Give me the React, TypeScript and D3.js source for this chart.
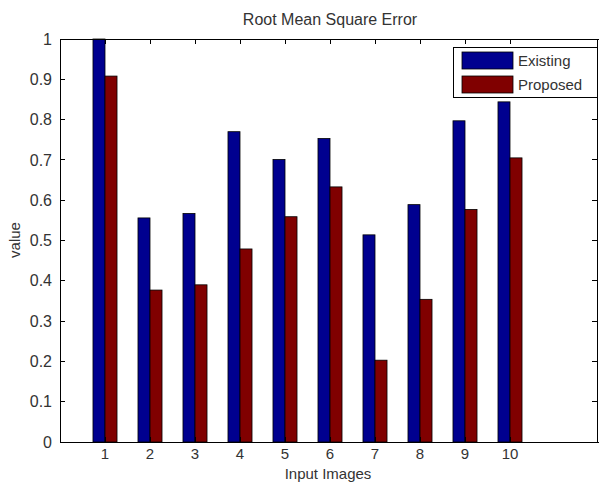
import * as d3 from "d3";

const categories = ["1", "2", "3", "4", "5", "6", "7", "8", "9", "10"];
const existing = [1.0, 0.556, 0.567, 0.77, 0.701, 0.753, 0.514, 0.589, 0.797, 0.844];
const proposed = [0.908, 0.377, 0.39, 0.479, 0.559, 0.633, 0.203, 0.354, 0.577, 0.705];
const yTicks = [0, 0.1, 0.2, 0.3, 0.4, 0.5, 0.6, 0.7, 0.8, 0.9, 1];
const seriesNames = ["Existing", "Proposed"];
const colors = ["#00008f", "#800000"];

const W = 599;
const H = 482;
const margin = { top: 39, left: 60, bottom: 40 };
const plotRight = 600;
const font = "'Liberation Sans', Arial, sans-serif";
const textColor = "#333";

export default function App() {
  const x = d3.scaleLinear().domain([0, 12]).range([margin.left, plotRight]);
  const y = d3.scaleLinear().domain([0, 1]).range([H - margin.bottom, margin.top]);
  const barW = x(0.267) - x(0);
  const y0 = y(0);
  const tick = 5;

  return (
    <svg width={W} height={H} style={{ position: "absolute", left: 0, top: 0, background: "#fff" }}>
      {/* bars */}
      {categories.map((c, i) => {
        const cx = x(i + 1);
        return (
          <g key={c}>
            <rect x={cx - barW} y={y(existing[i])} width={barW} height={y0 - y(existing[i])}
              fill={colors[0]} stroke="#000" strokeWidth={0.8} />
            <rect x={cx} y={y(proposed[i])} width={barW} height={y0 - y(proposed[i])}
              fill={colors[1]} stroke="#000" strokeWidth={0.8} />
          </g>
        );
      })}

      {/* axes box */}
      <g stroke="#000" strokeWidth={1} fill="none" shapeRendering="crispEdges">
        <line x1={x(0)} x2={plotRight} y1={y(1)} y2={y(1)} />
        <line x1={x(0)} x2={plotRight} y1={y0} y2={y0} />
        <line x1={x(0)} x2={x(0)} y1={y(1)} y2={y0} />
        <line x1={plotRight - 3} x2={plotRight - 3} y1={y(1)} y2={y0} />
        {yTicks.map(t => (
          <g key={"yt" + t}>
            <line x1={x(0)} x2={x(0) + tick} y1={y(t)} y2={y(t)} />
            <line x1={plotRight - 3 - tick} x2={plotRight - 3} y1={y(t)} y2={y(t)} />
          </g>
        ))}
        {categories.map((c, i) => (
          <g key={"xt" + c}>
            <line x1={x(i + 1)} x2={x(i + 1)} y1={y0} y2={y0 - tick} />
            <line x1={x(i + 1)} x2={x(i + 1)} y1={y(1)} y2={y(1) + tick} />
          </g>
        ))}
      </g>

      {/* tick labels */}
      <g fontFamily={font} fill={textColor}>
        {yTicks.map(t => (
          <text key={"yl" + t} x={x(0) - 8} y={y(t)} dy="0.35em" textAnchor="end" fontSize={16}>
            {d3.format("~g")(t)}
          </text>
        ))}
        {categories.map((c, i) => (
          <text key={"xl" + c} x={x(i + 1)} y={y0 + 17} textAnchor="middle" fontSize={15}>{c}</text>
        ))}
      </g>

      {/* titles */}
      <text x={330} y={25} textAnchor="middle" fontFamily={font} fontSize={16} fill={textColor}>
        Root Mean Square Error
      </text>
      <text x={328} y={478.5} textAnchor="middle" fontFamily={font} fontSize={15} fill={textColor}>
        Input Images
      </text>
      <text transform={`translate(20,${240}) rotate(-90)`} textAnchor="middle"
        fontFamily={font} fontSize={15} fill={textColor}>
        value
      </text>

      {/* legend */}
      <g>
        <rect x={453} y={47} width={144} height={50} fill="#fff" stroke="#000" strokeWidth={1}
          shapeRendering="crispEdges" />
        {seriesNames.map((s, i) => (
          <g key={s}>
            <rect x={462} y={52 + i * 24} width={51} height={17} fill={colors[i]} stroke="#000"
              strokeWidth={0.8} />
            <text x={518} y={61 + i * 24} dy="0.35em" fontFamily={font} fontSize={15} fill={textColor}>
              {s}
            </text>
          </g>
        ))}
      </g>
    </svg>
  );
}
